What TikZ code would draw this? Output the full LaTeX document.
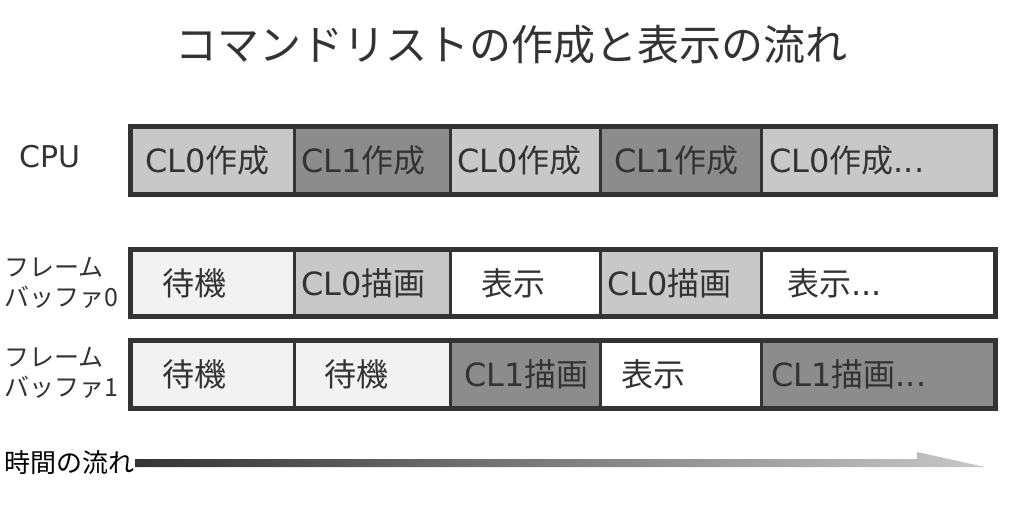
\documentclass[tikz,border=0pt]{standalone}
\usepackage{fontspec}
\setmainfont{DejaVu Sans}
\newfontfamily\jp{Noto Sans CJK JP}
\definecolor{ink}{HTML}{333333}
\definecolor{cla}{HTML}{C8C8C8}
\definecolor{clb}{HTML}{8C8C8C}
\definecolor{wait}{HTML}{F2F2F2}
\tikzset{
  cellst/.style={draw=ink, line width=3pt, inner sep=0pt, outer sep=0pt},
  celltext/.style={text=ink, inner sep=0pt, font=\fontsize{32}{38}\selectfont},
  rowframe/.style={draw=ink, line width=5pt},
  sidelabel/.style={text=ink, inner sep=0pt, align=left, font=\jp\fontsize{25}{30}\selectfont},
}
% #1 name, #2 x1, #3 x2, #4 ytop, #5 ybot, #6 fill, #7 pad, #8 text
\newcommand\cellbox[8]{%
  \node[cellst, fill=#6, minimum width={#3-#2}, minimum height={#5-#4}, anchor=north west] (#1) at (#2,#4) {};
  \node[celltext, anchor=west] (#1t) at ([xshift=#7pt]#1.west) {#8};
}
\begin{document}
\begin{tikzpicture}[x=1pt,y=-1pt]
\useasboundingbox (0,0) rectangle (1024,512);
\node[text=ink, inner sep=0pt, font=\jp\fontsize{42}{50}\selectfont] (title) at (511,45) {コマンドリストの作成と表示の流れ};

% CPU row
\cellbox{c1}{130}{294}{126.5}{194.5}{cla}{15}{CL0{\jp 作成}}
\cellbox{c2}{294}{450}{126.5}{194.5}{clb}{7}{CL1{\jp 作成}}
\cellbox{c3}{450}{600}{126.5}{194.5}{cla}{7}{CL0{\jp 作成}}
\cellbox{c4}{600}{761}{126.5}{194.5}{clb}{14}{CL1{\jp 作成}}
\cellbox{c5}{761}{995.5}{126.5}{194.5}{cla}{8}{CL0{\jp 作成}...}
\draw[rowframe] (130,126.5) rectangle (995.5,194.5);

% frame buffer 0
\cellbox{f1}{130}{294}{249.5}{316.5}{wait}{32}{\jp 待機}
\cellbox{f2}{294}{450}{249.5}{316.5}{cla}{7}{CL0{\jp 描画}}
\cellbox{f3}{450}{600}{249.5}{316.5}{white}{31}{\jp 表示}
\cellbox{f4}{600}{761}{249.5}{316.5}{cla}{7}{CL0{\jp 描画}}
\cellbox{f5}{761}{995.5}{249.5}{316.5}{white}{26}{{\jp 表示}...}
\draw[rowframe] (130,249.5) rectangle (995.5,316.5);

% frame buffer 1
\cellbox{g1}{130}{294}{340}{408}{wait}{32}{\jp 待機}
\cellbox{g2}{294}{450}{340}{408}{wait}{30}{\jp 待機}
\cellbox{g3}{450}{600}{340}{408}{clb}{14}{CL1{\jp 描画}}
\cellbox{g4}{600}{761}{340}{408}{white}{21}{\jp 表示}
\cellbox{g5}{761}{995.5}{340}{408}{clb}{10}{CL1{\jp 描画}...}
\draw[rowframe] (130,340) rectangle (995.5,408);

% row labels
\node[text=ink, inner sep=0pt, anchor=west, font=\fontsize{30}{36}\selectfont] (cpu) at (19,157) {CPU};
\node[sidelabel, anchor=west] (fb0) at (4,283) {フレーム\\バッファ0};
\node[sidelabel, anchor=west] (fb1) at (4,373) {フレーム\\バッファ1};

% time arrow
\node[inner sep=0pt, anchor=west, text=black, font=\jp\fontsize{26}{30}\selectfont] (time) at (4,463) {時間の流れ};
\coordinate (ts) at (135,459);
\shade[left color=ink, right color=cla] (ts) -- (917,459) -- (917,452) -- (985,467) -- (135,467) -- cycle;
\end{tikzpicture}
\end{document}
